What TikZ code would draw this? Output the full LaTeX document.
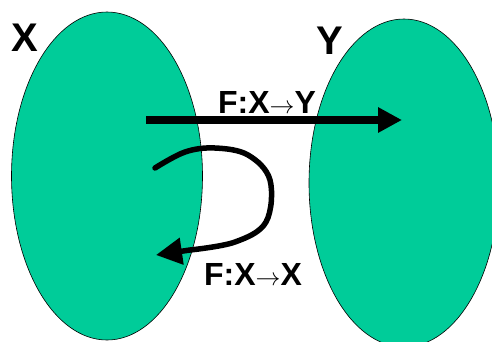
\documentclass[tikz,border=0pt]{standalone}
\usepackage{fontspec}
\setmainfont{Liberation Sans}
\usetikzlibrary{arrows.meta,shapes.geometric}
\definecolor{setgreen}{HTML}{00CC99}
\tikzset{
  setell/.style={ellipse, draw=black, line width=0.6pt, fill=setgreen, inner sep=0pt},
  big/.style={font=\fontsize{40}{40}\selectfont\bfseries, inner sep=0pt},
  lab/.style={font=\fontsize{32}{32}\selectfont\bfseries, inner sep=0pt},
  maparrow/.style={line width=8pt, -{Triangle[length=24pt,width=24pt]}},
  looparrow/.style={line width=5.5pt, line cap=round, -{Triangle[length=26pt,width=26pt]}}
}
\newcommand{\thinarrow}{$\rightarrow$}
\begin{document}
\begin{tikzpicture}[x=1pt,y=-1pt]
\useasboundingbox (0,0) rectangle (492,341);
\begin{scope}
\clip (0,0) rectangle (492,341);
\node[setell, minimum width=191pt, minimum height=328pt] (X) at (107,176) {};
\node[setell, minimum width=190pt, minimum height=328pt] (Y) at (404,183) {};
\end{scope}
\node[big] (xl) at (25,38) {X};
\node[big] (yl) at (330,41) {Y};
\coordinate (a1) at (146,120);
\coordinate (a2) at (402,120);
\draw[maparrow] (a1) -- (a2);
\coordinate (c0) at (155,168);
\coordinate (c6) at (156,255);
\draw[looparrow] plot[smooth, tension=0.6] coordinates {(c0) (185,152) (215,148) (248,155) (270,180) (266,222) (235,242) (190,250)} -- (c6);
\node[lab] (f1) at (267,102) {F:X\thinarrow Y};
\node[lab] (f2) at (253,274) {F:X\thinarrow X};
\end{tikzpicture}
\end{document}
